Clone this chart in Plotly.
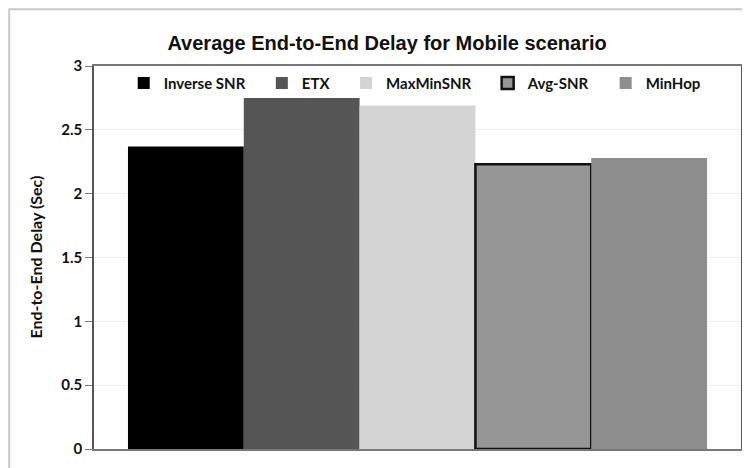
import plotly.graph_objects as go

protocols = ['Inverse SNR', 'ETX', 'MaxMinSNR', 'Avg-SNR', 'MinHop']
delays = [2.37, 2.75, 2.69, 2.23, 2.28]
colors = ['#000000', '#555555', '#d4d4d4', '#969696', '#8e8e8e']
y_ticks = [0, 0.5, 1, 1.5, 2, 2.5, 3]

LEGEND_FONT = 'Lato, Open Sans, sans-serif'
TITLE_FONT = 'Liberation Sans, Arial, sans-serif'

fig = go.Figure()
for name, val, col in zip(protocols, delays, colors):
    edge = '#111111' if name == 'Avg-SNR' else col
    width = 2.5 if name == 'Avg-SNR' else 0
    fig.add_trace(go.Bar(
        x=['Mobile'], y=[val], name=f'<b>{name}</b>&nbsp;&nbsp;&nbsp;',
        marker=dict(color=col, line=dict(color=edge, width=width)),
    ))

# the page body adds an 8px offset, so the figure is 8px smaller on each side
fig.update_layout(
    width=742, height=460,
    barmode='group', bargap=0.105, bargroupgap=0,
    paper_bgcolor='white', plot_bgcolor='white',
    margin=dict(l=86, r=7, t=58, b=19),
    font=dict(family=LEGEND_FONT, color='#111111'),
    title=dict(
        text='<b>Average End-to-End Delay for Mobile scenario</b>',
        x=0.453, xanchor='center', xref='paper', y=0.925, yanchor='middle',
        font=dict(size=20, family=TITLE_FONT),
    ),
    legend=dict(
        orientation='h', x=0.505, xanchor='center', y=0.955, yanchor='middle',
        bgcolor='rgba(0,0,0,0)', font=dict(size=15, family=LEGEND_FONT),
        itemwidth=30,
    ),
    showlegend=True,
)
fig.update_xaxes(
    showticklabels=False, ticks='', showgrid=False,
    showline=True, linecolor='#777777', linewidth=1.5, mirror=True,
)
fig.update_yaxes(
    range=[0, 3], tickvals=y_ticks, ticktext=[f'<b>{t:g}</b>' for t in y_ticks],
    ticks='outside', ticklen=7, tickcolor='#777777',
    showgrid=True, gridcolor='#eeeeee', gridwidth=1,
    showline=True, linecolor='#555555', linewidth=1.5, mirror=True,
    zeroline=False,
    tickfont=dict(size=15, family=LEGEND_FONT),
)

# y-axis title, placed as in the original
fig.add_annotation(
    text='<b>End-to-End Delay (Sec)</b>', textangle=-90,
    xref='paper', yref='paper', x=-0.091, y=0.5,
    xanchor='center', yanchor='middle', showarrow=False,
    font=dict(size=16, family=LEGEND_FONT, color='#111111'),
)

# outer chart frame
fig.add_shape(type='rect', xref='paper', yref='paper',
              x0=-0.131, x1=1.05, y0=-0.2, y1=1.148,
              line=dict(color='#c8c8c8', width=2), fillcolor='rgba(0,0,0,0)')

fig.write_html('out.html')
